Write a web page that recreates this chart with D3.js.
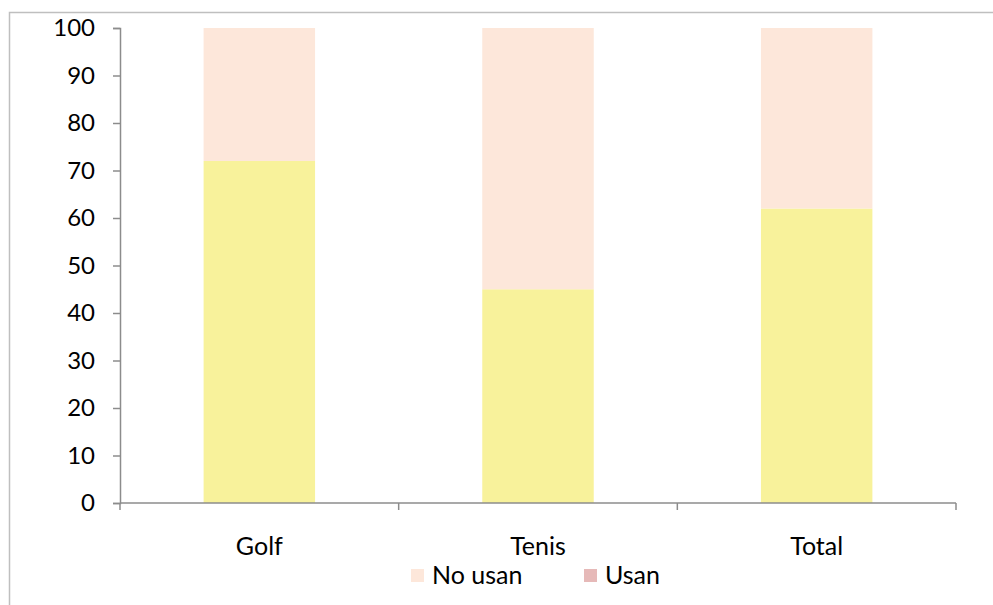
<!DOCTYPE html>
<html>
<head>
<meta charset="utf-8">
<script src="https://cdn.jsdelivr.net/npm/d3@7/dist/d3.min.js"></script>
<style>
  html, body { margin: 0; padding: 0; background: #fff; }
  svg { display: block; font-family: Lato, "Open Sans", sans-serif; }
</style>
</head>
<body>
<svg id="chart" width="993" height="605"></svg>
<script>
// Share of players, per sport
const categories = ["Golf", "Tenis", "Total"];
const usan = [72, 45, 62];
const noUsan = [28, 55, 38];
const yTicks = [0, 10, 20, 30, 40, 50, 60, 70, 80, 90, 100];
const seriesNames = ["No usan", "Usan"];

const colors = { usan: "#f8f29b", noUsan: "#fde7da", legendUsan: "#e6b9b8" };
const axisColor = "#8c8c8c";
const fontSize = 24;
const labelSize = 25;

const svg = d3.select("#chart");

// outer frame
svg.append("rect")
  .attr("x", 9.5).attr("y", 12.5)
  .attr("width", 1000).attr("height", 700)
  .attr("fill", "none").attr("stroke", "#bfbfbf").attr("stroke-width", 1.5);

const plot = { left: 120, right: 956, top: 28, bottom: 503 };

const x = d3.scaleBand().domain(categories).range([plot.left, plot.right]).paddingInner(0.6).paddingOuter(0.3);
const xOuter = d3.scaleBand().domain(categories).range([plot.left, plot.right]);
const y = d3.scaleLinear().domain([0, 100]).range([plot.bottom, plot.top]);

const stacked = categories.map((c, i) => ({ cat: c, usan: usan[i], noUsan: noUsan[i] }));

// bars: bottom segment
svg.append("g").selectAll("rect").data(stacked).join("rect")
  .attr("x", d => x(d.cat)).attr("width", x.bandwidth())
  .attr("y", d => y(d.usan)).attr("height", d => y(0) - y(d.usan))
  .attr("fill", colors.usan);

// bars: top segment
svg.append("g").selectAll("rect").data(stacked).join("rect")
  .attr("x", d => x(d.cat)).attr("width", x.bandwidth())
  .attr("y", d => y(d.usan + d.noUsan)).attr("height", d => y(d.usan) - y(d.usan + d.noUsan))
  .attr("fill", colors.noUsan);

// y axis
const yAxis = svg.append("g").attr("transform", `translate(${plot.left},0)`)
  .call(d3.axisLeft(y).tickValues(yTicks).tickSize(7).tickPadding(18).tickFormat(d3.format("d")));
yAxis.select(".domain").attr("stroke", axisColor).attr("stroke-width", 1.5);
yAxis.selectAll(".tick line").attr("stroke", axisColor).attr("stroke-width", 1.5);
yAxis.selectAll("text").attr("font-size", fontSize).attr("fill", "#000").attr("font-family", "Lato, sans-serif");

// x axis with boundary ticks
const xg = svg.append("g").attr("transform", `translate(0,${plot.bottom})`);
xg.append("line").attr("x1", plot.left).attr("x2", plot.right)
  .attr("stroke", axisColor).attr("stroke-width", 1.5);
const bounds = categories.map(c => xOuter(c)).concat([plot.right]);
xg.selectAll("line.tk").data(bounds).join("line").attr("class", "tk")
  .attr("x1", d => d).attr("x2", d => d).attr("y1", 0).attr("y2", 7)
  .attr("stroke", axisColor).attr("stroke-width", 1.5);
xg.selectAll("text").data(categories).join("text")
  .attr("x", d => xOuter(d) + xOuter.bandwidth() / 2)
  .attr("y", 52)
  .attr("text-anchor", "middle")
  .attr("font-size", labelSize).attr("fill", "#000")
  .text(d => d);

// legend
const legendItems = [
  { name: seriesNames[0], color: colors.noUsan, x: 411 },
  { name: seriesNames[1], color: colors.legendUsan, x: 584 }
];
const lg = svg.append("g");
lg.selectAll("rect").data(legendItems).join("rect")
  .attr("x", d => d.x).attr("y", 569).attr("width", 13).attr("height", 13)
  .attr("fill", d => d.color);
lg.selectAll("text").data(legendItems).join("text")
  .attr("x", d => d.x + 21).attr("y", 584)
  .attr("font-size", labelSize).attr("fill", "#000")
  .text(d => d.name);
</script>
</body>
</html>
